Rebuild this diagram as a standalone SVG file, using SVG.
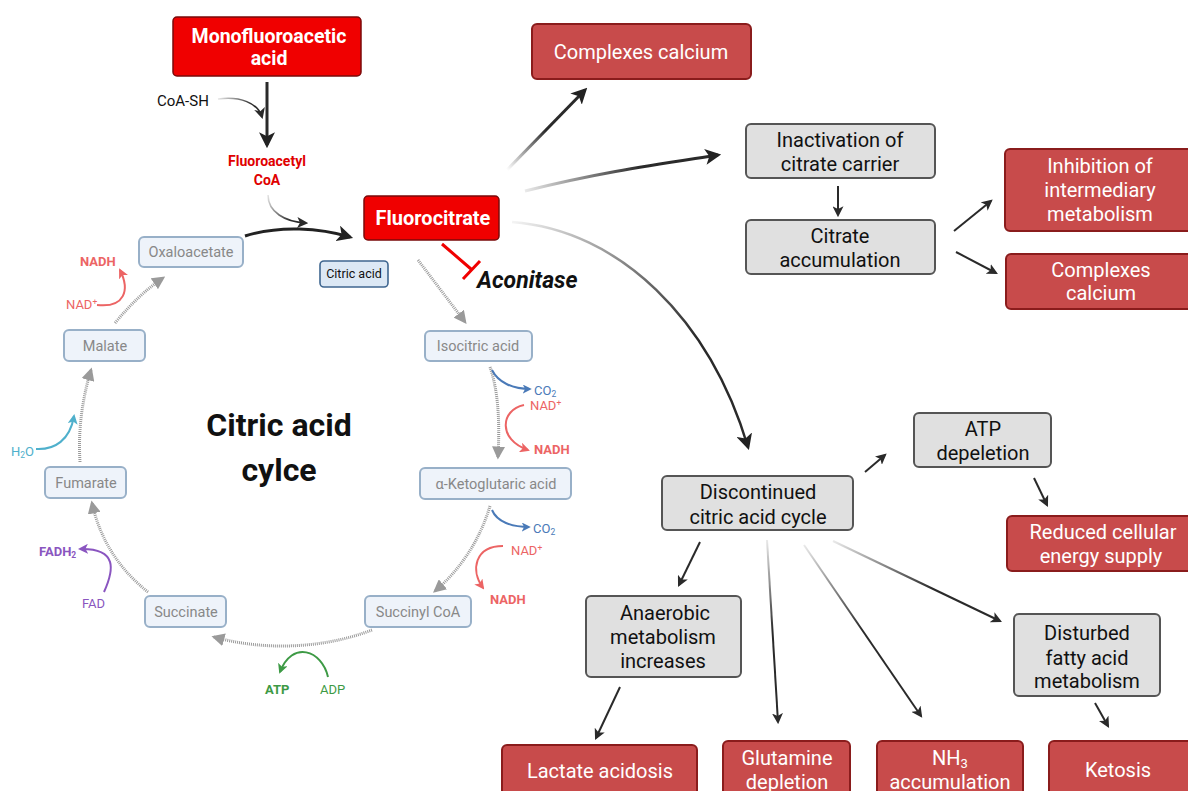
<svg xmlns="http://www.w3.org/2000/svg" width="1188" height="791" viewBox="0 0 1188 791">
<style>
.red{fill:#f00000;stroke:#7a0a0a;stroke-width:1.5}
.res{fill:#c84b4b;stroke:#8a1c1c;stroke-width:2}
.gry{fill:#e0e0e0;stroke:#555;stroke-width:2}
.cyc{fill:#eef3fa;stroke:#98b0c8;stroke-width:2}
.cit{fill:#dce8f5;stroke:#3f6690;stroke-width:1.6}
.tw{font-family:Roboto,"Liberation Sans",sans-serif;font-weight:bold;fill:#fff;text-anchor:middle}
.tr{font-family:Roboto,"Liberation Sans",sans-serif;fill:#fff;text-anchor:middle;font-size:20px}
.tb{font-family:Roboto,"Liberation Sans",sans-serif;fill:#111;text-anchor:middle;font-size:20px}
.tc{font-family:Roboto,"Liberation Sans",sans-serif;fill:#888;text-anchor:middle;font-size:14.5px}
.s{font-family:Roboto,"Liberation Sans",sans-serif;font-size:13px}
.dash{fill:none;stroke:#9a9a9a;stroke-width:3;stroke-dasharray:1 1;marker-end:url(#mg)}
.k{fill:none;stroke:#2a2a2a;stroke-width:2;marker-end:url(#mk)}
</style>
<defs>
<marker id="mk" viewBox="0 0 10 10" refX="8" refY="5" markerWidth="11" markerHeight="11" markerUnits="userSpaceOnUse" orient="auto"><path d="M0,0 L10,5 L0,10 L2.5,5 z" fill="#2a2a2a"/></marker>
<marker id="mkb" viewBox="0 0 10 10" refX="8" refY="5" markerWidth="16" markerHeight="16" markerUnits="userSpaceOnUse" orient="auto"><path d="M0,0 L10,5 L0,10 L2.5,5 z" fill="#222"/></marker>
<marker id="mg" viewBox="0 0 10 10" refX="8" refY="5" markerWidth="13" markerHeight="13" markerUnits="userSpaceOnUse" orient="auto"><path d="M0,0 L10,5 L0,10 z" fill="#9a9a9a"/></marker>
<marker id="mbl" viewBox="0 0 10 10" refX="8" refY="5" markerWidth="9" markerHeight="9" markerUnits="userSpaceOnUse" orient="auto"><path d="M0,0 L10,5 L0,10 L2.5,5 z" fill="#4a7ab8"/></marker>
<marker id="mr" viewBox="0 0 10 10" refX="8" refY="5" markerWidth="10" markerHeight="10" markerUnits="userSpaceOnUse" orient="auto"><path d="M0,0 L10,5 L0,10 L2.5,5 z" fill="#ec6464"/></marker>
<marker id="mgr" viewBox="0 0 10 10" refX="8" refY="5" markerWidth="10" markerHeight="10" markerUnits="userSpaceOnUse" orient="auto"><path d="M0,0 L10,5 L0,10 L2.5,5 z" fill="#3d9a45"/></marker>
<marker id="mp" viewBox="0 0 10 10" refX="8" refY="5" markerWidth="10" markerHeight="10" markerUnits="userSpaceOnUse" orient="auto"><path d="M0,0 L10,5 L0,10 L2.5,5 z" fill="#8a55c0"/></marker>
<marker id="mc" viewBox="0 0 10 10" refX="8" refY="5" markerWidth="10" markerHeight="10" markerUnits="userSpaceOnUse" orient="auto"><path d="M0,0 L10,5 L0,10 L2.5,5 z" fill="#4fb0cc"/></marker>
<linearGradient id="g1" gradientUnits="userSpaceOnUse" x1="507" y1="170" x2="585" y2="90"><stop offset="0" stop-color="#2a2a2a" stop-opacity="0"/><stop offset="0.5" stop-color="#2a2a2a"/></linearGradient>
<linearGradient id="g2" gradientUnits="userSpaceOnUse" x1="525" y1="191" x2="718" y2="155"><stop offset="0" stop-color="#2a2a2a" stop-opacity="0.1"/><stop offset="0.6" stop-color="#2a2a2a"/></linearGradient>
<linearGradient id="g3" gradientUnits="userSpaceOnUse" x1="512" y1="222" x2="700" y2="330"><stop offset="0" stop-color="#2a2a2a" stop-opacity="0.05"/><stop offset="1" stop-color="#2a2a2a"/></linearGradient>
<linearGradient id="g4" gradientUnits="userSpaceOnUse" x1="833" y1="541" x2="1000" y2="621"><stop offset="0" stop-color="#2a2a2a" stop-opacity="0.1"/><stop offset="0.6" stop-color="#2a2a2a"/></linearGradient>
<linearGradient id="g5" gradientUnits="userSpaceOnUse" x1="804" y1="545" x2="921" y2="716"><stop offset="0" stop-color="#2a2a2a" stop-opacity="0.1"/><stop offset="0.5" stop-color="#2a2a2a"/></linearGradient>
<linearGradient id="g6" gradientUnits="userSpaceOnUse" x1="767" y1="540" x2="778" y2="722"><stop offset="0" stop-color="#2a2a2a" stop-opacity="0.1"/><stop offset="0.5" stop-color="#2a2a2a"/></linearGradient>
<linearGradient id="g7" gradientUnits="userSpaceOnUse" x1="218" y1="98" x2="262" y2="117"><stop offset="0" stop-color="#2a2a2a" stop-opacity="0.1"/><stop offset="0.7" stop-color="#2a2a2a"/></linearGradient>
<linearGradient id="g8" gradientUnits="userSpaceOnUse" x1="267" y1="195" x2="307" y2="222"><stop offset="0" stop-color="#2a2a2a" stop-opacity="0.1"/><stop offset="0.7" stop-color="#2a2a2a"/></linearGradient>
</defs>

<g id="connectors">
<path d="M267,82 L267,145" fill="none" stroke="#2a2a2a" stroke-width="3" marker-end="url(#mkb)"/>
<path d="M218,99 C240,96 258,103 262,117" fill="none" stroke="url(#g7)" stroke-width="1.6" marker-end="url(#mk)"/>
<path d="M268,195 C268,212 285,222 306,223" fill="none" stroke="url(#g8)" stroke-width="1.6" marker-end="url(#mk)"/>
<path d="M245,236 C280,225 320,228 350,237" fill="none" stroke="#222" stroke-width="3" marker-end="url(#mkb)"/>
<path d="M442,244 L471,269 M463,279 L480,261" fill="none" stroke="#f00000" stroke-width="3"/>
<path d="M418,260 L465,322" class="dash"/>
<path d="M490,367 C498,390 500,420 498,457" class="dash"/>
<path d="M490,506 C480,540 460,570 435,591" class="dash"/>
<path d="M372,630 C320,650 260,650 214,637" class="dash"/>
<path d="M148,592 C120,570 100,540 92,503" class="dash"/>
<path d="M80,462 C78,430 82,400 91,370" class="dash"/>
<path d="M115,323 C130,305 145,290 163,278" class="dash"/>
<path d="M492,370 C498,382 512,389 530,389" fill="none" stroke="#4a7ab8" stroke-width="2" marker-end="url(#mbl)"/>
<path d="M524,405 C500,410 498,440 528,450" fill="none" stroke="#ec6464" stroke-width="2" marker-end="url(#mr)"/>
<path d="M492,510 C497,522 512,527 529,527" fill="none" stroke="#4a7ab8" stroke-width="2" marker-end="url(#mbl)"/>
<path d="M503,546 C475,546 470,570 483,588" fill="none" stroke="#ec6464" stroke-width="2" marker-end="url(#mr)"/>
<path d="M328,677 C322,650 292,640 280,672" fill="none" stroke="#3d9a45" stroke-width="2" marker-end="url(#mgr)"/>
<path d="M104,592 C114,570 118,548 80,549" fill="none" stroke="#8a55c0" stroke-width="2" marker-end="url(#mp)"/>
<path d="M36,449 C55,450 70,440 74,416" fill="none" stroke="#4fb0cc" stroke-width="2" marker-end="url(#mc)"/>
<path d="M97,305 C125,308 130,290 120,270" fill="none" stroke="#ec6464" stroke-width="2" marker-end="url(#mr)"/>
<path d="M507,170 L585,90" fill="none" stroke="url(#g1)" stroke-width="3" marker-end="url(#mkb)"/>
<path d="M525,191 C600,172 660,164 718,155" fill="none" stroke="url(#g2)" stroke-width="3" marker-end="url(#mkb)"/>
<path d="M512,222 C620,230 710,320 748,447" fill="none" stroke="url(#g3)" stroke-width="2.5" marker-end="url(#mkb)"/>
<path d="M838,186 L838,215" class="k"/>
<path d="M954,231 L991,201" class="k"/>
<path d="M956,252 L996,273" class="k"/>
<path d="M865,472 L885,455" class="k"/>
<path d="M1034,478 L1047,505" class="k"/>
<path d="M700,542 L679,585" class="k"/>
<path d="M767,540 L778,722" fill="none" stroke="url(#g6)" stroke-width="2" marker-end="url(#mk)"/>
<path d="M804,545 L921,716" fill="none" stroke="url(#g5)" stroke-width="2" marker-end="url(#mk)"/>
<path d="M833,541 L1000,621" fill="none" stroke="url(#g4)" stroke-width="2" marker-end="url(#mk)"/>
<path d="M620,687 L596,738" class="k"/>
<path d="M1095,703 L1108,726" class="k"/>
</g>

<g id="mfa"><rect x="173" y="17" width="188" height="59" rx="4" class="red"/><text class="tw" font-size="19.5" x="269" y="43">Monofluoroacetic</text><text class="tw" font-size="19.5" x="269" y="65">acid</text></g>
<g id="coash"><text x="157" y="106" font-family="Roboto,'Liberation Sans',sans-serif" font-size="15" fill="#111">CoA-SH</text></g>
<g id="fcoa"><text x="267" y="166" font-family="Roboto,'Liberation Sans',sans-serif" font-size="14" font-weight="bold" fill="#e00000" text-anchor="middle">Fluoroacetyl</text><text x="267" y="185" font-family="Roboto,'Liberation Sans',sans-serif" font-size="14" font-weight="bold" fill="#e00000" text-anchor="middle">CoA</text></g>
<g id="fluorocitrate"><rect x="364" y="196" width="135" height="44" rx="4" class="red"/><text class="tw" font-size="20" x="433" y="225">Fluorocitrate</text></g>
<g id="citric"><rect x="320" y="261" width="68" height="26" rx="4" class="cit"/><text x="354" y="278" font-family="Roboto,'Liberation Sans',sans-serif" font-size="12.5" fill="#111" text-anchor="middle">Citric acid</text></g>
<g id="aconitase"><text x="477" y="288" font-family="Roboto,'Liberation Sans',sans-serif" font-size="23" font-weight="bold" font-style="italic" fill="#111">Aconitase</text></g>

<g id="oxalo"><rect x="139" y="237" width="104" height="30" rx="5" class="cyc"/><text class="tc" x="191" y="257">Oxaloacetate</text></g>
<g id="isocitric"><rect x="425" y="331" width="107" height="30" rx="5" class="cyc"/><text class="tc" x="478" y="351">Isocitric acid</text></g>
<g id="akg"><rect x="420" y="468" width="151" height="31" rx="5" class="cyc"/><text class="tc" x="496" y="489">α-Ketoglutaric acid</text></g>
<g id="succoa"><rect x="365" y="596" width="106" height="31" rx="5" class="cyc"/><text class="tc" x="418" y="617">Succinyl CoA</text></g>
<g id="succinate"><rect x="145" y="596" width="81" height="31" rx="5" class="cyc"/><text class="tc" x="186" y="617">Succinate</text></g>
<g id="fumarate"><rect x="45" y="467" width="81" height="31" rx="5" class="cyc"/><text class="tc" x="86" y="488">Fumarate</text></g>
<g id="malate"><rect x="64" y="330" width="81" height="31" rx="5" class="cyc"/><text class="tc" x="105" y="351">Malate</text></g>

<g id="cofactors">
<text class="s" x="534" y="395" fill="#4a7ab8">CO<tspan font-size="8.5" dy="2">2</tspan></text>
<text class="s" x="530" y="410" fill="#ec6464">NAD<tspan font-size="8.5" dy="-4">+</tspan></text>
<text class="s" x="534" y="454" fill="#ec6464" font-weight="bold">NADH</text>
<text class="s" x="533" y="533" fill="#4a7ab8">CO<tspan font-size="8.5" dy="2">2</tspan></text>
<text class="s" x="511" y="555" fill="#ec6464">NAD<tspan font-size="8.5" dy="-4">+</tspan></text>
<text class="s" x="490" y="604" fill="#ec6464" font-weight="bold">NADH</text>
<text class="s" x="265" y="694" fill="#3d9a45" font-weight="bold">ATP</text>
<text class="s" x="320" y="694" fill="#3d9a45">ADP</text>
<text class="s" x="82" y="608" fill="#8a55c0">FAD</text>
<text class="s" x="39" y="556" fill="#8a55c0" font-weight="bold">FADH<tspan font-size="8.5" dy="2">2</tspan></text>
<text class="s" x="11" y="456" fill="#4fb0cc">H<tspan font-size="8.5" dy="2">2</tspan><tspan dy="-2">O</tspan></text>
<text class="s" x="66" y="309" fill="#ec6464">NAD<tspan font-size="8.5" dy="-4">+</tspan></text>
<text class="s" x="80" y="266" fill="#ec6464" font-weight="bold">NADH</text>
</g>

<g id="cycle-title"><text x="279" y="436" font-family="Roboto,'Liberation Sans',sans-serif" font-size="32" font-weight="bold" fill="#111" text-anchor="middle">Citric acid</text><text x="279" y="481" font-family="Roboto,'Liberation Sans',sans-serif" font-size="32" font-weight="bold" fill="#111" text-anchor="middle">cylce</text></g>

<g id="cc1"><rect x="532" y="24" width="219" height="55" rx="5" class="res"/><text class="tr" x="641" y="59">Complexes calcium</text></g>
<g id="inact"><rect x="746" y="124" width="189" height="54" rx="5" class="gry"/><text class="tb" x="840" y="147">Inactivation of</text><text class="tb" x="840" y="171">citrate carrier</text></g>
<g id="citacc"><rect x="746" y="220" width="189" height="54" rx="5" class="gry"/><text class="tb" x="840" y="243">Citrate</text><text class="tb" x="840" y="267">accumulation</text></g>
<g id="inhib"><rect x="1005" y="149" width="190" height="82" rx="5" class="res"/><text class="tr" x="1100" y="173">Inhibition of</text><text class="tr" x="1100" y="197">intermediary</text><text class="tr" x="1100" y="221">metabolism</text></g>
<g id="cc2"><rect x="1006" y="254" width="189" height="55" rx="5" class="res"/><text class="tr" x="1101" y="277">Complexes</text><text class="tr" x="1101" y="300">calcium</text></g>
<g id="disc"><rect x="662" y="476" width="191" height="54" rx="5" class="gry"/><text class="tb" x="758" y="499">Discontinued</text><text class="tb" x="758" y="524">citric acid cycle</text></g>
<g id="atpdep"><rect x="914" y="413" width="137" height="54" rx="5" class="gry"/><text class="tb" x="983" y="436">ATP</text><text class="tb" x="983" y="460">depeletion</text></g>
<g id="reduced"><rect x="1007" y="516" width="188" height="55" rx="5" class="res"/><text class="tr" x="1103" y="539">Reduced cellular</text><text class="tr" x="1101" y="563">energy supply</text></g>
<g id="anaer"><rect x="586" y="596" width="155" height="81" rx="5" class="gry"/><text class="tb" x="665" y="620">Anaerobic</text><text class="tb" x="663" y="644">metabolism</text><text class="tb" x="663" y="668">increases</text></g>
<g id="disturbed"><rect x="1014" y="614" width="146" height="82" rx="5" class="gry"/><text class="tb" x="1087" y="640">Disturbed</text><text class="tb" x="1087" y="665">fatty acid</text><text class="tb" x="1087" y="688">metabolism</text></g>
<g id="lactate"><rect x="502" y="745" width="195" height="55" rx="5" class="res"/><text class="tr" x="600" y="778">Lactate acidosis</text></g>
<g id="glut"><rect x="723" y="741" width="127" height="55" rx="5" class="res"/><text class="tr" x="787" y="765">Glutamine</text><text class="tr" x="787" y="789">depletion</text></g>
<g id="nh3"><rect x="877" y="741" width="146" height="55" rx="5" class="res"/><text class="tr" x="950" y="765">NH<tspan font-size="13" dy="3">3</tspan></text><text class="tr" x="950" y="789">accumulation</text></g>
<g id="ketosis"><rect x="1049" y="741" width="146" height="55" rx="5" class="res"/><text class="tr" x="1118" y="777">Ketosis</text></g>
</svg>
